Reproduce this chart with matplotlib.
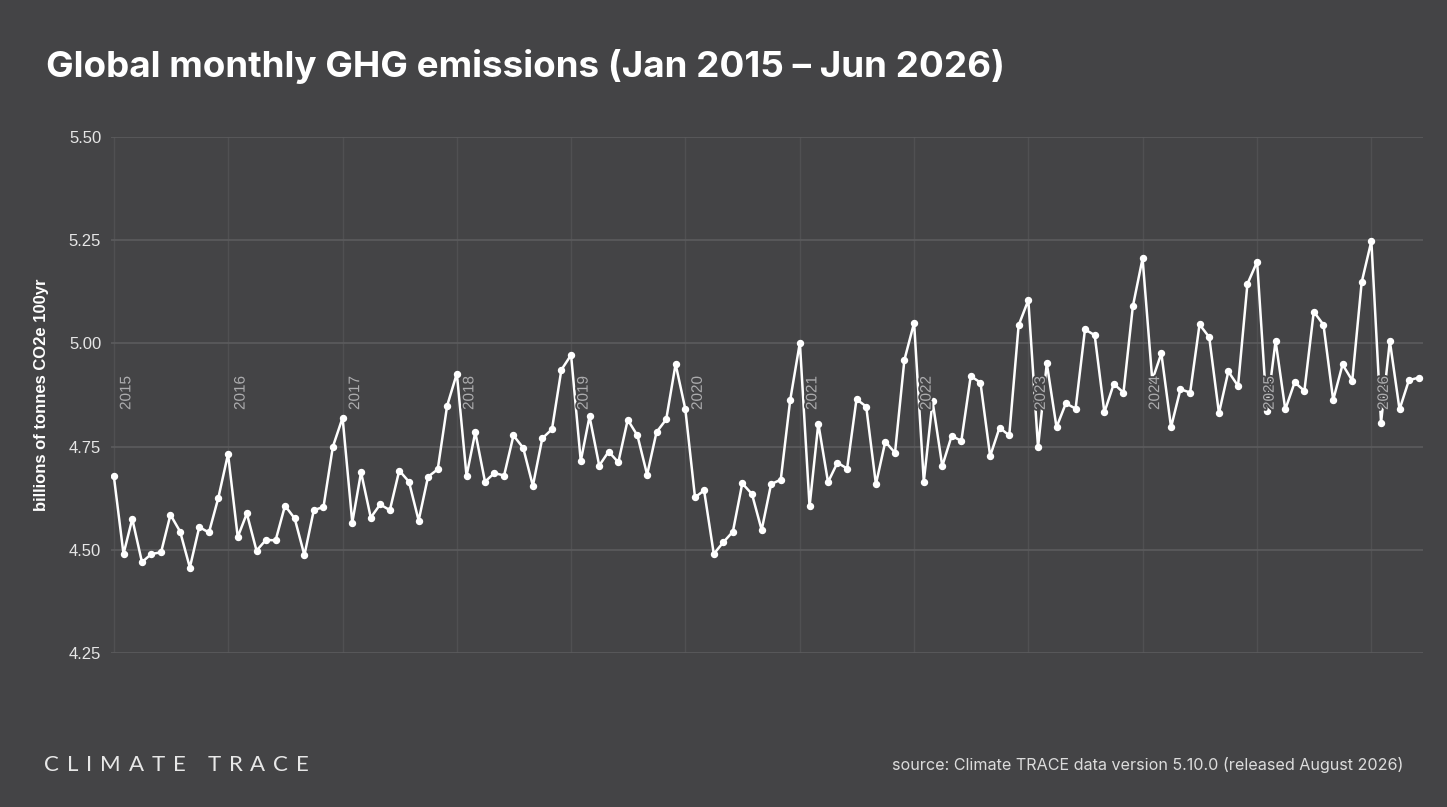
import pandas as pd
import matplotlib
matplotlib.use('Agg')
import matplotlib.pyplot as plt
import matplotlib.dates as mdates
import matplotlib.patheffects as pe

# monthly global GHG emissions, billions of tonnes CO2e 100yr
emissions_2015 = [4.679, 4.490, 4.575, 4.470, 4.490, 4.494, 4.585, 4.544, 4.457, 4.555, 4.542, 4.626]
emissions_2016 = [4.732, 4.531, 4.588, 4.498, 4.524, 4.523, 4.607, 4.576, 4.487, 4.596, 4.604, 4.750]
emissions_2017 = [4.820, 4.566, 4.688, 4.578, 4.610, 4.596, 4.692, 4.665, 4.571, 4.677, 4.695, 4.849]
emissions_2018 = [4.927, 4.679, 4.785, 4.665, 4.686, 4.680, 4.777, 4.747, 4.655, 4.770, 4.792, 4.936]
emissions_2019 = [4.972, 4.715, 4.823, 4.704, 4.738, 4.712, 4.815, 4.777, 4.682, 4.785, 4.816, 4.950]
emissions_2020 = [4.841, 4.627, 4.644, 4.490, 4.518, 4.544, 4.661, 4.635, 4.548, 4.659, 4.670, 4.862]
emissions_2021 = [5.002, 4.605, 4.806, 4.664, 4.711, 4.697, 4.865, 4.847, 4.659, 4.762, 4.735, 4.960]
emissions_2022 = [5.050, 4.665, 4.860, 4.703, 4.776, 4.764, 4.921, 4.905, 4.727, 4.796, 4.777, 5.044]
emissions_2023 = [5.105, 4.748, 4.952, 4.797, 4.855, 4.842, 5.034, 5.020, 4.833, 4.902, 4.881, 5.090]
emissions_2024 = [5.206, 4.911, 4.976, 4.797, 4.889, 4.881, 5.046, 5.015, 4.831, 4.932, 4.897, 5.144]
emissions_2025 = [5.198, 4.837, 5.006, 4.840, 4.906, 4.885, 5.077, 5.045, 4.863, 4.949, 4.910, 5.148]
emissions_2026 = [5.248, 4.808, 5.006, 4.840, 4.911, 4.917]

years = list(range(2015, 2027))
y_ticks = [4.25, 4.50, 4.75, 5.00, 5.25, 5.50]

title = 'Global monthly GHG emissions (Jan 2015 \u2013 Jun 2026)'
y_label = 'billions of tonnes CO2e 100yr'
source = 'source: Climate TRACE data version 5.10.0 (released August 2026)'
logo = 'CLIMATE TRACE'

values = (emissions_2015 + emissions_2016 + emissions_2017 + emissions_2018 + emissions_2019
          + emissions_2020 + emissions_2021 + emissions_2022 + emissions_2023 + emissions_2024
          + emissions_2025 + emissions_2026)
months = pd.date_range('2015-01-01', periods=len(values), freq='MS')
df = pd.DataFrame({'month': months, 'emissions': values})

bg = '#444446'
grid_color = '#5c5c5e'
W, H = 1447, 807

fig = plt.figure(figsize=(14.47, 8.07), dpi=100, facecolor=bg)
ax = fig.add_axes([0.0767, 0.1908, 0.9065, 0.6394], facecolor=bg)

ax.plot(df['month'], df['emissions'], color='white', lw=1.8, marker='o', ms=4.3,
        solid_joinstyle='miter', zorder=3)

ax.set_ylim(4.25, 5.50)
ax.set_yticks(y_ticks)
ax.set_yticklabels([f'{v:.2f}' for v in y_ticks], fontsize=12, color='#e6e6e6',
                   family='Liberation Sans')
ax.set_xlim(months[0] - pd.Timedelta(days=9), months[-1] + pd.Timedelta(days=13))
ax.xaxis.set_major_locator(mdates.YearLocator())
ax.set_xticklabels([])
ax.tick_params(axis='x', length=0)
ax.tick_params(axis='y', length=0, pad=7)
ax.grid(axis='y', color=grid_color, lw=1.2)
ax.grid(axis='x', color='#505052', lw=1.0)
for s in ax.spines.values():
    s.set_visible(False)

ax.set_ylabel(y_label, fontsize=12, fontweight='bold', color='white',
              family='Liberation Sans', labelpad=14)

# year labels next to each January line
for yr in years:
    ax.annotate(str(yr), xy=(pd.Timestamp(f'{yr}-01-01'), 0.471),
                xycoords=('data', 'axes fraction'), xytext=(4, 0),
                textcoords='offset points', rotation=90, ha='left', va='bottom',
                fontsize=11, color='#ababad', family='Liberation Sans', zorder=4,
                path_effects=[pe.withStroke(linewidth=2.5, foreground=bg)])

fig.text(46 / W, 1 - 77 / H, title, fontsize=26.5, fontweight='bold',
         color='white', family='Inter', va='baseline')
fig.text(1403 / W, 1 - 770 / H, source, fontsize=11.6, color='#dcdcdc',
         family='Inter', ha='right', va='baseline')

# wordmark with wide letter spacing, spread over the same width as the original
renderer = fig.canvas.get_renderer()
letters = []
for ch in logo:
    t = fig.text(0, 1 - 771 / H, ch, fontsize=16, color='#e8e8e8', family='Lato',
                 va='baseline')
    letters.append((t, t.get_window_extent(renderer).width))
total = sum(w for _, w in letters)
gap = (265 - total) / (len(letters) - 1)
x = 44
for t, w in letters:
    t.set_x(x / W)
    x += w + gap

fig.savefig('out.png', dpi=100, facecolor=bg)
